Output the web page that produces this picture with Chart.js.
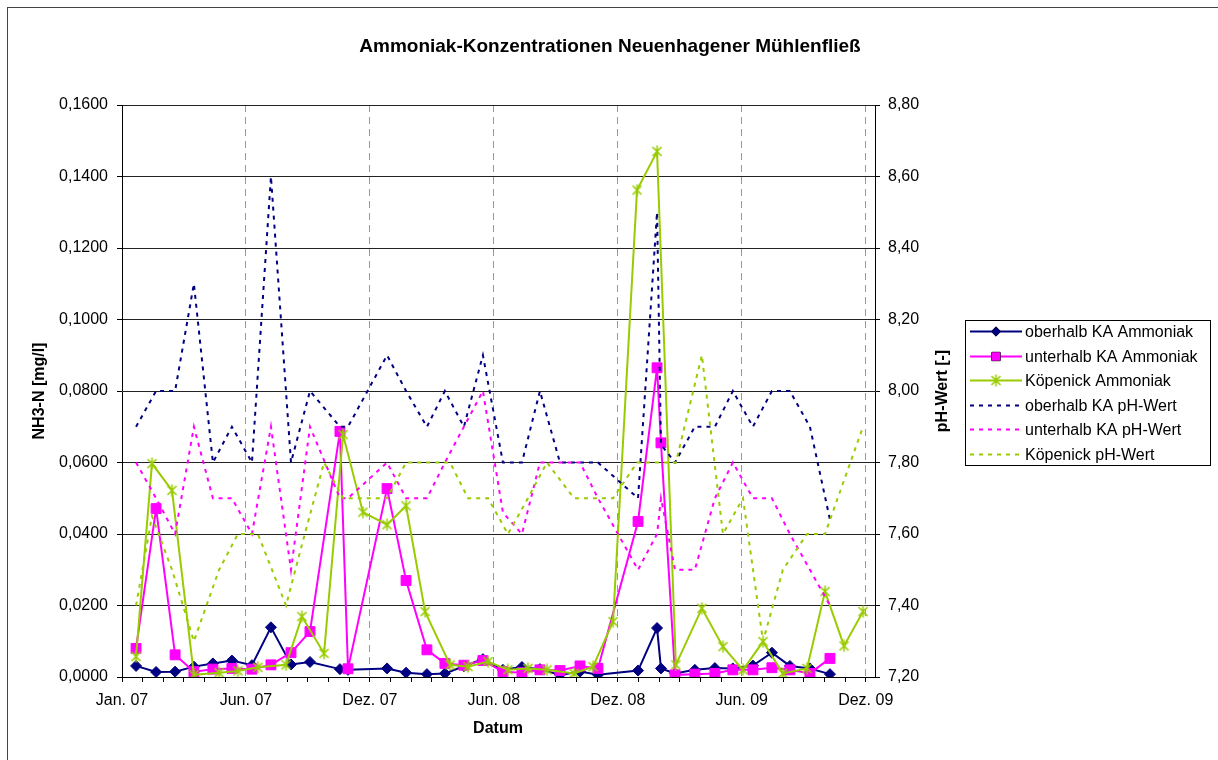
<!DOCTYPE html>
<html lang="de">
<head>
<meta charset="utf-8">
<title>Ammoniak-Konzentrationen Neuenhagener Mühlenfließ</title>
<script src="https://cdn.jsdelivr.net/npm/chart.js@4.4.1/dist/chart.umd.min.js"></script>
<style>
  html, body { margin: 0; padding: 0; background: #fff; }
  canvas { display: block; }
</style>
</head>
<body>
<canvas id="chart" width="1218" height="760"></canvas>
<script>
const chartTitle = 'Ammoniak-Konzentrationen Neuenhagener Mühlenfließ';
const xLabels = ['Jan. 07', 'Jun. 07', 'Dez. 07', 'Jun. 08', 'Dez. 08', 'Jun. 09', 'Dez. 09'];

// sample dates in months since Jan. 07 (oberhalb / unterhalb KA)
const datesKA = [0.68, 1.65, 2.57, 3.48, 4.40, 5.32, 6.29, 7.21, 8.18, 9.10,
  10.55, 10.94, 12.83, 13.75, 14.76, 15.63, 16.55, 17.47, 18.44, 19.36,
  20.23, 21.20, 22.17, 23.04, 24.98, 25.90, 26.09, 26.77, 27.73, 28.70,
  29.57, 30.54, 31.46, 32.33, 33.30, 34.27];
// sample dates Köpenick
const datesKoep = [0.68, 1.45, 2.42, 3.48, 4.70, 5.61, 6.58, 7.94, 8.71, 9.78,
  10.70, 11.66, 12.83, 13.75, 14.67, 15.88, 16.75, 17.72, 18.68, 19.65,
  20.57, 21.88, 22.80, 23.77, 24.93, 25.90, 26.81, 28.07, 29.09, 30.06,
  31.03, 31.99, 33.16, 34.03, 34.95, 35.87];

// NH3-N [mg/l]
const nh3Ober = [0.0031, 0.0014, 0.0015, 0.0029, 0.0038, 0.0046, 0.0033, 0.0139, 0.0035, 0.0042,
  0.0022, 0.0020, 0.0024, 0.0012, 0.0008, 0.0010, 0.0030, 0.0050, 0.0020, 0.0028,
  0.0022, 0.0006, 0.0015, 0.0006, 0.0018, 0.0137, 0.0024, 0.0010, 0.0020, 0.0025,
  0.0024, 0.0032, 0.0068, 0.0031, 0.0024, 0.0008];
const nh3Unter = [0.0080, 0.0471, 0.0062, 0.0015, 0.0022, 0.0024, 0.0022, 0.0034, 0.0068, 0.0127,
  0.0687, 0.0023, 0.0527, 0.0270, 0.0076, 0.0038, 0.0033, 0.0046, 0.0015, 0.0012,
  0.0020, 0.0018, 0.0031, 0.0024, 0.0435, 0.0865, 0.0655, 0.0006, 0.0008, 0.0010,
  0.0020, 0.0020, 0.0026, 0.0020, 0.0010, 0.0052];
const nh3Koep = [0.0057, 0.0597, 0.0522, 0.0006, 0.0012, 0.0017, 0.0027, 0.0034, 0.0169, 0.0066,
  0.0678, 0.0461, 0.0426, 0.0479, 0.0183, 0.0034, 0.0029, 0.0043, 0.0020, 0.0024,
  0.0020, 0.0010, 0.0029, 0.0155, 0.1362, 0.1470, 0.0034, 0.0192, 0.0085, 0.0020,
  0.0099, 0.0010, 0.0024, 0.0239, 0.0087, 0.0183];

// pH-Wert [-]
const phOber = [7.90, 8.00, 8.00, 8.30, 7.80, 7.90, 7.80, 8.60, 7.80, 8.00,
  7.90, 7.90, 8.10, 8.00, 7.90, 8.00, 7.90, 8.10, 7.80, 7.80,
  8.00, 7.80, 7.80, 7.80, 7.70, 8.50, 7.85, 7.80, 7.90, 7.90,
  8.00, 7.90, 8.00, 8.00, 7.90, 7.64];
const phUnter = [7.80, 7.70, 7.60, 7.90, 7.70, 7.70, 7.60, 7.90, 7.50, 7.90,
  7.70, 7.70, 7.80, 7.70, 7.70, 7.80, 7.90, 8.00, 7.66, 7.60,
  7.80, 7.80, 7.80, 7.70, 7.50, 7.60, 7.70, 7.50, 7.50, 7.70,
  7.80, 7.70, 7.70, 7.60, 7.50, 7.40];
const phKoep = [7.40, 7.65, 7.50, 7.30, 7.50, 7.60, 7.60, 7.40, 7.57, 7.80,
  7.70, 7.70, 7.70, 7.80, 7.80, 7.80, 7.70, 7.70, 7.60, 7.70,
  7.80, 7.70, 7.70, 7.70, 7.80, 7.80, 7.80, 8.10, 7.60, 7.70,
  7.30, 7.50, 7.60, 7.60, 7.75, 7.90];

const NAVY = '#000080', PINK = '#FF00FF', LIME = '#99CC00';
const FONT = '"Liberation Sans", Arial, sans-serif';
const DOTS = [4, 5];

// Excel-like star marker (X with a vertical bar)
function makeStar(color) {
  const c = document.createElement('canvas');
  c.width = 13; c.height = 13;
  const g = c.getContext('2d');
  g.strokeStyle = color; g.lineWidth = 1.6;
  g.beginPath();
  g.moveTo(2, 2); g.lineTo(11, 11);
  g.moveTo(11, 2); g.lineTo(2, 11);
  g.moveTo(6.5, 0.5); g.lineTo(6.5, 12.5);
  g.stroke();
  return c;
}
const star = makeStar(LIME);

const pts = (xs, ys) => xs.map((x, i) => ({ x, y: ys[i] }));

const datasets = [
  { label: 'oberhalb KA Ammoniak', data: pts(datesKA, nh3Ober), yAxisID: 'y', borderColor: NAVY, backgroundColor: NAVY,
    pointStyle: 'rectRot', pointRadius: 5.5, order: 5 },
  { label: 'unterhalb KA Ammoniak', data: pts(datesKA, nh3Unter), yAxisID: 'y', borderColor: PINK, backgroundColor: PINK,
    pointStyle: 'rect', pointRadius: 7, order: 4 },
  { label: 'Köpenick Ammoniak', data: pts(datesKoep, nh3Koep), yAxisID: 'y', borderColor: LIME, backgroundColor: LIME,
    pointStyle: star, pointRadius: 6, order: 3 },
  { label: 'oberhalb KA pH-Wert', data: pts(datesKA, phOber), yAxisID: 'y2', borderColor: NAVY,
    borderDash: DOTS, pointRadius: 0, order: 2 },
  { label: 'unterhalb KA pH-Wert', data: pts(datesKA, phUnter), yAxisID: 'y2', borderColor: PINK,
    borderDash: DOTS, pointRadius: 0, order: 1 },
  { label: 'Köpenick pH-Wert', data: pts(datesKoep, phKoep), yAxisID: 'y2', borderColor: LIME,
    borderDash: DOTS, pointRadius: 0, order: 0 }
];
datasets.forEach(d => { d.borderWidth = 2; d.tension = 0; d.fill = false; d.pointBorderWidth = 1; });

// title, axis titles, legend and frame
const decor = {
  id: 'decor',
  afterDraw(chart) {
    const ctx = chart.ctx;
    ctx.save();
    ctx.strokeStyle = '#444'; ctx.lineWidth = 1;
    ctx.strokeRect(7.5, 7.5, 1300, 800);

    ctx.fillStyle = '#000';
    ctx.textAlign = 'center'; ctx.textBaseline = 'middle';
    ctx.font = 'bold 19px ' + FONT;
    ctx.fillText(chartTitle, 610, 47);
    ctx.font = 'bold 16px ' + FONT;
    ctx.fillText('Datum', 498, 729);
    ctx.save(); ctx.translate(40, 391); ctx.rotate(-Math.PI / 2);
    ctx.fillText('NH3-N [mg/l]', 0, 0); ctx.restore();
    ctx.save(); ctx.translate(943, 391); ctx.rotate(-Math.PI / 2);
    ctx.fillText('pH-Wert [-]', 0, 0); ctx.restore();

    // legend
    ctx.strokeStyle = '#000';
    ctx.strokeRect(965.5, 320.5, 245, 145);
    ctx.font = '16px ' + FONT;
    ctx.textAlign = 'left';
    datasets.forEach((d, i) => {
      const y = Math.round(331 + i * 24.6) + 0.5;
      ctx.save();
      ctx.strokeStyle = d.borderColor; ctx.lineWidth = 2;
      ctx.setLineDash(d.borderDash || []);
      ctx.beginPath(); ctx.moveTo(970, y); ctx.lineTo(1022, y); ctx.stroke();
      ctx.restore();
      if (d.pointRadius) {
        if (d.pointStyle === star) {
          ctx.drawImage(star, 996 - 6.5, y - 6.5);
        } else {
          Chart.helpers.drawPoint(ctx, { pointStyle: d.pointStyle, radius: d.pointRadius * 0.85, borderWidth: 1, rotation: 0 }, 996, y);
          ctx.fillStyle = d.backgroundColor; ctx.fill();
        }
      }
      ctx.fillStyle = '#000';
      ctx.fillText(d.label, 1025, y + 1);
    });
    ctx.restore();
  }
};

new Chart(document.getElementById('chart'), {
  type: 'line',
  data: { datasets },
  plugins: [decor],
  options: {
    responsive: false,
    animation: false,
    devicePixelRatio: 1,
    layout: { padding: { left: 0, top: 105, right: 243, bottom: 43 } },
    plugins: { legend: { display: false }, tooltip: { enabled: false } },
    scales: {
      x: {
        type: 'linear', min: 0, max: 36.45,
        afterBuildTicks: s => { s.ticks = Array.from({ length: 37 }, (_, i) => ({ value: i })); },
        afterFit: s => { s.height = 40; },
        ticks: {
          autoSkip: false, maxRotation: 0, padding: 9, color: '#000',
          font: { family: FONT, size: 16 },
          callback: v => (v % 6 === 0 ? xLabels[v / 6] : '')
        },
        grid: {
          color: c => (c.tick && c.tick.value > 0 && c.tick.value % 6 === 0) ? '#999' : 'rgba(0,0,0,0)',
          tickColor: '#000', tickLength: 5, lineWidth: 1
        },
        border: { color: '#000', width: 1, dash: [7, 5] }
      },
      y: {
        position: 'left', min: 0, max: 0.16,
        afterBuildTicks: s => { s.ticks = Array.from({ length: 9 }, (_, i) => ({ value: i * 0.02 })); },
        afterFit: s => { s.width = 122; },
        ticks: { padding: 9, color: '#000', font: { family: FONT, size: 16 },
          callback: v => v.toFixed(4).replace('.', ',') },
        grid: { color: '#222', tickColor: '#000', tickLength: 5 },
        border: { color: '#000', width: 1 }
      },
      y2: {
        position: 'right', min: 7.2, max: 8.8,
        afterBuildTicks: s => { s.ticks = Array.from({ length: 9 }, (_, i) => ({ value: 7.2 + i * 0.2 })); },
        afterFit: s => { s.width = 100; },
        ticks: { padding: 8, color: '#000', font: { family: FONT, size: 16 },
          callback: v => v.toFixed(2).replace('.', ',') },
        grid: { drawOnChartArea: false, tickColor: '#000', tickLength: 5 },
        border: { color: '#000', width: 1 }
      }
    }
  }
});
</script>
</body>
</html>
